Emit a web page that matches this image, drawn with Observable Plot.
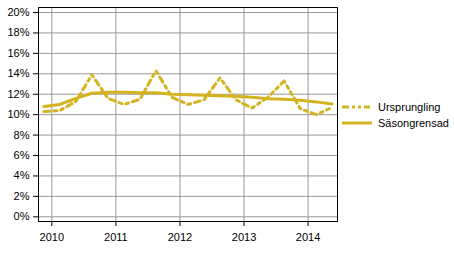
<!DOCTYPE html>
<html><head><meta charset="utf-8">
<script src="https://cdn.jsdelivr.net/npm/d3@7"></script>
<script src="https://cdn.jsdelivr.net/npm/@observablehq/plot@0.6"></script>
<style>
body{margin:0;background:#fff;font-family:"Liberation Sans",Arial,sans-serif;}
#wrap{position:relative;width:454px;height:253px;}
.leg{position:absolute;left:342px;height:14px;font-size:11px;display:flex;align-items:center;color:#000;}
.leg svg{display:block;margin-right:6px;}
</style></head><body><div id="wrap"></div>
<script>
const periods = ["2009Q4","2010Q1","2010Q2","2010Q3","2010Q4","2011Q1","2011Q2","2011Q3","2011Q4","2012Q1","2012Q2","2012Q3","2012Q4","2013Q1","2013Q2","2013Q3","2013Q4","2014Q1","2014Q2"];
const ursprunglig = [10.3,10.4,11.3,13.9,11.6,11.0,11.5,14.3,11.7,11.0,11.45,13.6,11.45,10.65,11.7,13.3,10.6,10.0,10.7];
const sasongrensad = [10.8,11.0,11.6,12.1,12.2,12.2,12.15,12.15,12.0,11.95,11.9,11.85,11.8,11.7,11.55,11.5,11.4,11.25,11.05];
const seriesNames = ["Ursprungling","Säsongrensad"];
const yearTicks = [2010,2011,2012,2013,2014];
const yTicks = [0,2,4,6,8,10,12,14,16,18,20];
const color = "#d3b31f";
const dashPattern = "6,4,3,4,3,4";

const toX = p => +p.slice(0,4) + (+p.slice(5) - 0.5) / 4;
const rowsU = periods.map((p,i) => ({x: toX(p), v: ursprunglig[i], s: seriesNames[0]}));
const rowsS = periods.map((p,i) => ({x: toX(p), v: sasongrensad[i], s: seriesNames[1]}));

const chart = Plot.plot({
  width: 454, height: 253,
  marginLeft: 38, marginRight: 117, marginTop: 7, marginBottom: 32,
  style: {fontFamily: '"Liberation Sans", Arial, sans-serif', fontSize: "11px", color: "#000", background: "#fff"},
  x: {domain: [2009.792, 2014.459]},
  y: {domain: [-0.46, 20.49]},
  marks: [
    Plot.gridY(yTicks, {stroke: "#999", strokeOpacity: 1}),
    Plot.gridX(yearTicks, {stroke: "#999", strokeOpacity: 1}),
    Plot.axisY(yTicks, {tickSize: 5, tickPadding: 4, tickFormat: d => d + "%", fontSize: 11, label: null}),
    Plot.axisX(yearTicks, {tickSize: 5, tickPadding: 7, tickFormat: d => String(d), fontSize: 11, label: null}),
    Plot.line(rowsS, {x: "x", y: "v", stroke: color, strokeWidth: 3}),
    Plot.line(rowsU, {x: "x", y: "v", stroke: color, strokeWidth: 3, strokeDasharray: dashPattern}),
    Plot.frame({stroke: "#000"})
  ]
});
const wrap = document.getElementById("wrap");
wrap.appendChild(chart);

const legendItems = [
  {name: seriesNames[0], dash: "7,3,3,3,3,3", top: 100},
  {name: seriesNames[1], dash: null, top: 115.5}
];
for (const it of legendItems) {
  const d = document.createElement("div");
  d.className = "leg";
  d.style.top = it.top + "px";
  d.innerHTML = `<svg width="30" height="14"><line x1="0" x2="${it.dash ? 28 : 30}" y1="7" y2="7" stroke="${color}" stroke-width="3" ${it.dash ? `stroke-dasharray="${it.dash}"` : ""}/></svg><span>${it.name}</span>`;
  wrap.appendChild(d);
}
</script></body></html>
